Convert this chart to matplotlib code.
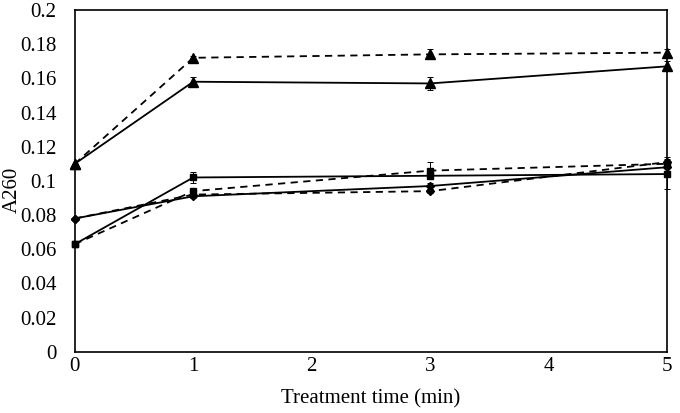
import matplotlib.pyplot as plt
import numpy as np

plt.rcParams['font.family'] = ['Liberation Serif', 'DejaVu Serif']

t = [0, 1, 3, 5]

# triangles
tri_dash = [0.110, 0.172, 0.174, 0.175]
tri_dash_err = [0, 0.001, 0.003, 0.002]
tri_solid = [0.110, 0.158, 0.157, 0.167]
tri_solid_err = [0, 0.003, 0.004, 0.003]

# squares
sq_solid = [0.063, 0.102, 0.103, 0.104]
sq_solid_err = [0, 0.003, 0.002, 0.009]
sq_dash = [0.063, 0.094, 0.106, 0.110]
sq_dash_err = [0, 0.002, 0.005, 0.002]

# diamonds
dia_solid = [0.078, 0.091, 0.097, 0.108]
dia_solid_err = [0, 0.001, 0.002, 0.002]
dia_dash = [0.078, 0.092, 0.094, 0.111]
dia_dash_err = [0, 0.001, 0.001, 0.003]

fig = plt.figure(figsize=(6.8, 4.13), dpi=100)
ax = fig.add_axes([0.110, 0.148, 0.871, 0.828])

def draw(y, e, ls, mk, ms):
    ax.errorbar(t, y, yerr=e, color='black', ls=ls, lw=1.3, marker=mk, ms=ms,
                ecolor='black', elinewidth=0.7, capsize=2, capthick=0.7, clip_on=False)

draw(tri_dash, tri_dash_err, (0, (4, 3)), '^', 7)
draw(tri_solid, tri_solid_err, '-', '^', 7)
draw(sq_solid, sq_solid_err, '-', 's', 5)
draw(sq_dash, sq_dash_err, (0, (4, 3)), 's', 5)
draw(dia_solid, dia_solid_err, '-', 'D', 4)
draw(dia_dash, dia_dash_err, (0, (4, 3)), 'D', 4)

ax.set_xlim(0, 5)
ax.set_ylim(0, 0.2)
ax.set_xticks(range(6))
ax.set_yticks(np.arange(0, 0.201, 0.02))
ax.set_yticklabels(['0', '0.02', '0.04', '0.06', '0.08', '0.1', '0.12', '0.14', '0.16', '0.18', '0.2'])
ax.tick_params(axis='x', length=0, labelsize=15, pad=4)
ax.tick_params(axis='y', length=0, labelsize=15, pad=13)
for s in ax.spines.values():
    s.set_linewidth(1.2)
ax.set_xlabel('Treatment time (min)', fontsize=15, labelpad=9)
ax.set_ylabel('A260', fontsize=15)
ax.yaxis.set_label_coords(0.032, 0.54, transform=fig.transFigure)

plt.savefig('out.png', dpi=100)
